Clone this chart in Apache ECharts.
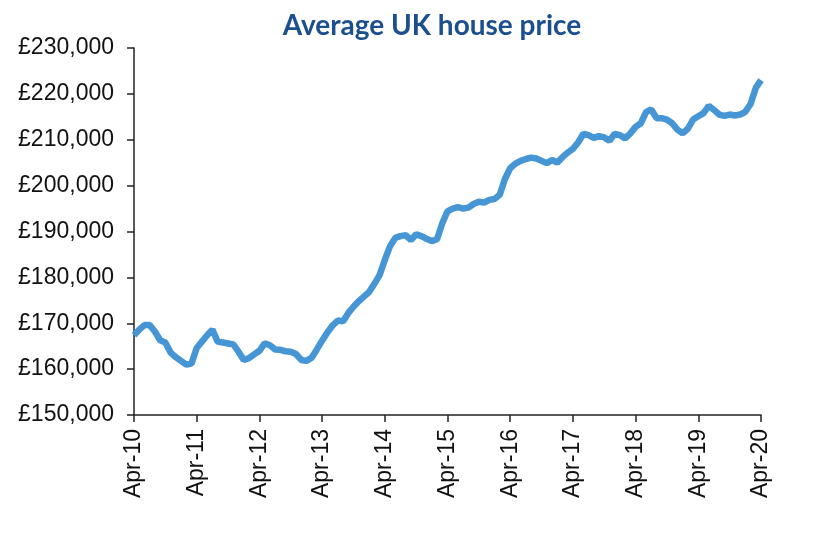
<!DOCTYPE html>
<html>
<head>
<meta charset="utf-8">
<script src="https://cdn.jsdelivr.net/npm/echarts@6/dist/echarts.min.js"></script>
<style>html,body{margin:0;padding:0;background:#fff;}#c{width:822px;height:542px;}</style>
</head>
<body>
<div id="c"></div>
<script>
// Monthly average UK house price, Apr-2010 .. Apr-2020 (in £ thousands)
const prices = [
  167.4,168.6,169.6,169.6,168.2,166.3,165.8,163.6,162.6,161.8,161.0,161.2,
  164.6,166.0,167.4,168.6,166.0,165.8,165.6,165.4,163.8,162.0,162.4,163.2,
  164.0,165.6,165.2,164.3,164.2,163.9,163.8,163.3,162.0,161.8,162.5,164.3,
  166.2,168.0,169.5,170.6,170.4,172.2,173.6,174.8,175.8,176.8,178.6,180.5,
  183.8,186.8,188.6,189.0,189.2,188.1,189.4,189.0,188.4,187.9,188.3,191.8,
  194.4,195.0,195.3,195.0,195.2,196.0,196.5,196.3,196.9,197.1,198.0,201.5,
  203.8,204.8,205.4,205.8,206.1,205.9,205.4,204.9,205.6,205.0,206.2,207.2,
  208.0,209.4,211.3,211.0,210.4,210.8,210.5,209.8,211.3,211.0,210.3,211.4,
  212.8,213.6,216.0,216.6,214.7,214.7,214.4,213.6,212.2,211.4,212.4,214.4,
  215.1,215.8,217.4,216.5,215.5,215.2,215.5,215.3,215.5,216.1,217.8,221.3,
  223.0
];
const monthNames = ['Jan','Feb','Mar','Apr','May','Jun','Jul','Aug','Sep','Oct','Nov','Dec'];
const startYear = 2010, startMonth = 3; // April 2010
const categories = prices.map((_, i) => {
  const m = (startMonth + i) % 12;
  const y = startYear + Math.floor((startMonth + i) / 12);
  return monthNames[m] + '-' + String(y).slice(2);
});
const yTicks = { min: 150, max: 230, interval: 10 };
const titleText = 'Average UK house price';

const chart = echarts.init(document.getElementById('c'));
chart.setOption({
  animation: false,
  title: {
    text: titleText,
    left: 427,
    top: 7,
    textAlign: 'center',
    textStyle: { fontFamily: 'Lato', fontWeight: 'bold', fontSize: 28, color: '#1b4f8d' }
  },
  grid: { left: 134, right: 61, top: 48, bottom: 127, containLabel: false },
  xAxis: {
    type: 'category',
    data: categories,
    boundaryGap: false,
    axisLine: { lineStyle: { color: '#222', width: 1.5 } },
    axisTick: { show: true, interval: 11, length: 7, lineStyle: { color: '#222', width: 1.5 } },
    axisLabel: {
      interval: 11, rotate: 90, margin: 14,
      fontFamily: 'Liberation Sans', fontSize: 23, color: '#111'
    },
    splitLine: { show: false }
  },
  yAxis: {
    type: 'value',
    min: yTicks.min, max: yTicks.max, interval: yTicks.interval,
    axisLine: { show: true, lineStyle: { color: '#222', width: 1.5 } },
    axisTick: { show: true, length: 7, lineStyle: { color: '#222', width: 1.5 } },
    axisLabel: {
      margin: 20, fontFamily: 'Liberation Sans', fontSize: 23, color: '#111',
      formatter: v => '£' + v + ',000'
    },
    splitLine: { show: false }
  },
  series: [{
    type: 'line',
    data: prices,
    showSymbol: false,
    smooth: false,
    lineStyle: { color: '#4696d6', width: 6.5 },
    itemStyle: { color: '#4696d6' }
  }]
});
</script>
</body>
</html>
